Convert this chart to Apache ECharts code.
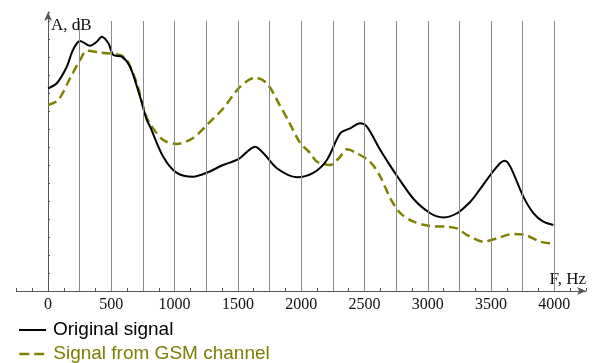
<!DOCTYPE html>
<html><head><meta charset="utf-8">
<script src="https://cdn.jsdelivr.net/npm/echarts@6/dist/echarts.min.js"></script>
<style>html,body{margin:0;padding:0;background:#fff}#c{width:594px;height:363px}</style>
</head><body><div id="c"></div>
<script>
// Original signal
const origFreq = [0,69,148,190,227,253,332,385,424,477,516,583,648,727,780,806,910,1017,1146,1254,1383,1503,1636,1700,1808,1966,2095,2203,2308,2387,2466,2519,2625,2704,2756,2888,3020,3125,3231,3336,3389,3507,3573,3607,3652,3755,3834,3913,3992];
const origVal  = [11.26,11.54,12.46,13.28,13.76,13.89,13.63,13.85,14.13,13.76,13.11,13.02,12.46,10.79,9.5,9.13,7.46,6.56,6.35,6.57,7.0,7.32,8.02,7.67,6.82,6.32,6.56,7.28,8.76,9.04,9.32,9.13,7.83,6.95,6.4,5.11,4.32,4.09,4.32,4.96,5.43,6.56,7.11,7.24,6.91,5.24,4.33,3.85,3.67];
// Signal from GSM channel
const gsmFreq = [0,81,174,253,306,411,569,622,701,767,806,910,1017,1146,1281,1387,1518,1636,1729,1834,1900,1992,2071,2124,2229,2300,2361,2440,2545,2625,2704,2783,2888,3020,3152,3231,3310,3441,3547,3676,3771,3889,3982];
const gsmVal  = [10.33,10.61,11.82,12.83,13.35,13.24,13.11,12.83,11.54,9.87,9.28,8.39,8.17,8.5,9.41,10.17,11.35,11.85,11.54,10.28,9.44,8.22,7.67,7.18,7.0,7.39,7.87,7.65,7.18,6.35,5.15,4.32,3.85,3.61,3.57,3.48,3.11,2.74,2.93,3.17,3.11,2.74,2.65];
const gridFreqs = [250,500,750,1000,1250,1500,1750,2000,2250,2500,2750,3000,3250,3500,3750,4000];
const xTickLabels = [0,500,1000,1500,2000,2500,3000,3500,4000];
const seriesNames = ['Original signal','Signal from GSM channel'];
const yGridTop = 15;

const zip = (a,b) => a.map((v,i)=>[v,b[i]]);
const chart = echarts.init(document.getElementById('c'), null, {renderer:'canvas'});
const axisColor = '#555';
const legendBase = {
  orient:'horizontal', left:18, padding:0, itemWidth:27, itemHeight:14,
  itemStyle:{opacity:0},
  textStyle:{fontFamily:'Liberation Sans', fontSize:19, padding:[0,0,0,2]}
};
chart.setOption({
  animation:false,
  backgroundColor:'#fff',
  grid:{left:16.4, right:8, top:12, bottom:72, containLabel:false},
  legend:[
    Object.assign({}, legendBase, {top:320.5, data:[{name:seriesNames[0], textStyle:{color:'#000'}, lineStyle:{color:'#000', width:2, type:'solid'}}]}),
    Object.assign({}, legendBase, {top:344.5, data:[{name:seriesNames[1], textStyle:{color:'#7d7d00'}, lineStyle:{color:'#808000', width:2.5, type:[10,5]}}]})
  ],
  xAxis:{
    type:'value', min:-250, max:4250, interval:125,
    name:'F, Hz', nameLocation:'end', nameGap:0,
    nameTextStyle:{fontFamily:'Liberation Serif', fontSize:17, color:'#111', align:'right', verticalAlign:'bottom', padding:[0,0,3,0]},
    axisLine:{onZero:true, lineStyle:{color:axisColor, width:1}, symbol:['none','arrow'], symbolSize:[6,9]},
    axisTick:{show:true, inside:true, length:3, lineStyle:{color:axisColor}},
    axisLabel:{fontFamily:'Liberation Serif', fontSize:16, color:'#111', margin:6,
      formatter:v => xTickLabels.includes(v) ? String(v) : ''},
    splitLine:{show:false}
  },
  yAxis:{
    type:'value', min:0, max:15.5, interval:1,
    name:'A, dB', nameLocation:'end', nameGap:-5,
    nameTextStyle:{fontFamily:'Liberation Serif', fontSize:17, color:'#111', align:'left', verticalAlign:'top', padding:[0,0,0,3]},
    axisLine:{onZero:true, lineStyle:{color:axisColor, width:1}, symbol:['none','arrow'], symbolSize:[6,9]},
    axisTick:{show:true, inside:true, length:2, lineStyle:{color:axisColor}},
    axisLabel:{show:false},
    splitLine:{show:false}
  },
  series:[
    {name:seriesNames[0], type:'line', data:zip(origFreq, origVal), smooth:0.3, symbol:'none',
     lineStyle:{color:'#000', width:2}, itemStyle:{color:'#000'}, z:4,
     markLine:{silent:true, symbol:'none', label:{show:false}, animation:false,
       lineStyle:{color:'#8a8a8a', width:1, type:'solid'},
       data: gridFreqs.map(f => [{coord:[f,0]},{coord:[f,yGridTop]}])}},
    {name:seriesNames[1], type:'line', data:zip(gsmFreq, gsmVal), smooth:0.3, symbol:'none',
     lineStyle:{color:'#808000', width:2.5, type:[9,5]}, itemStyle:{color:'#808000'}, z:3}
  ]
});
</script></body></html>
